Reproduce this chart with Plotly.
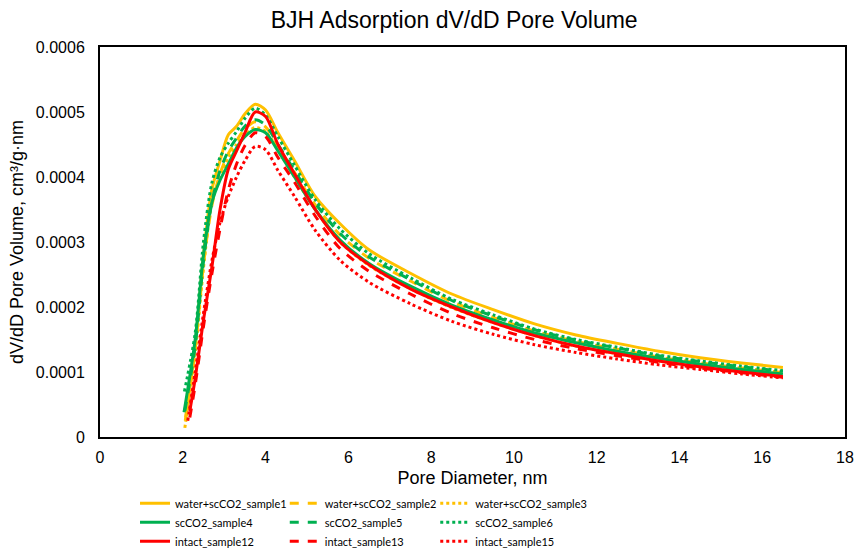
import plotly.graph_objects as go

# ---------------- data ----------------
grid = [2.3, 2.5, 2.7, 2.9, 3.1, 3.3, 3.5, 3.75, 4.0, 4.3, 4.7, 5.2, 5.8, 6.5,
        7.5, 8.5, 9.5, 10.5, 11.5, 12.5, 13.5, 14.5, 15.5, 16.5]

names = ["water+scCO2_sample1", "water+scCO2_sample2", "water+scCO2_sample3",
         "scCO2_sample4", "scCO2_sample5", "scCO2_sample6",
         "intact_sample12", "intact_sample13", "intact_sample15"]

start_d = [2.07, 2.06, 2.05, 2.03, 2.05, 2.04, 2.17, 2.17, 2.12]
start_v = [0.000030, 0.000025, 0.000014, 0.000038, 0.000040, 0.000070, 0.000040, 0.000030, 0.000025]

s1 = [0.000140, 0.000280, 0.000380, 0.000425, 0.000465, 0.000478, 0.000497, 0.000512, 0.000503, 0.000468,
      0.000425, 0.000370, 0.000328, 0.000288, 0.000252, 0.000220, 0.000196, 0.000174, 0.000157, 0.000144,
      0.000132, 0.000122, 0.000114, 0.000107]
s2 = [0.000135, 0.000265, 0.000355, 0.000405, 0.000436, 0.000456, 0.000474, 0.000485, 0.000477, 0.000447,
      0.000407, 0.000357, 0.000311, 0.000275, 0.000240, 0.000208, 0.000184, 0.000163, 0.000147, 0.000135,
      0.000123, 0.000114, 0.000106, 0.000099]
s3 = [0.000130, 0.000260, 0.000360, 0.000400, 0.000430, 0.000450, 0.000465, 0.000476, 0.000470, 0.000442,
      0.000400, 0.000350, 0.000300, 0.000264, 0.000228, 0.000199, 0.000176, 0.000156, 0.000140, 0.000128,
      0.000117, 0.000108, 0.000100, 0.000093]
s4 = [0.000150, 0.000280, 0.000360, 0.000395, 0.000420, 0.000445, 0.000462, 0.000473, 0.000468, 0.000440,
      0.000400, 0.000350, 0.000303, 0.000267, 0.000232, 0.000203, 0.000180, 0.000160, 0.000145, 0.000132,
      0.000121, 0.000112, 0.000104, 0.000097]
s5 = [0.000140, 0.000270, 0.000360, 0.000410, 0.000440, 0.000460, 0.000478, 0.000488, 0.000480, 0.000450,
      0.000410, 0.000360, 0.000313, 0.000277, 0.000242, 0.000210, 0.000186, 0.000165, 0.000149, 0.000137,
      0.000125, 0.000116, 0.000108, 0.000101]
s6 = [0.000160, 0.000300, 0.000390, 0.000430, 0.000452, 0.000470, 0.000490, 0.000506, 0.000495, 0.000462,
      0.000418, 0.000365, 0.000320, 0.000282, 0.000245, 0.000212, 0.000188, 0.000166, 0.000150, 0.000138,
      0.000126, 0.000117, 0.000109, 0.000102]
s12 = [0.000090, 0.000180, 0.000260, 0.000350, 0.000412, 0.000440, 0.000468, 0.000500, 0.000493, 0.000450,
       0.000405, 0.000350, 0.000300, 0.000265, 0.000228, 0.000200, 0.000176, 0.000156, 0.000140, 0.000128,
       0.000117, 0.000108, 0.000100, 0.000093]
s13 = [0.000080, 0.000170, 0.000250, 0.000320, 0.000380, 0.000420, 0.000448, 0.000468, 0.000462, 0.000430,
       0.000392, 0.000340, 0.000290, 0.000255, 0.000220, 0.000190, 0.000168, 0.000150, 0.000136, 0.000125,
       0.000115, 0.000106, 0.000099, 0.000092]
s15 = [0.000100, 0.000190, 0.000270, 0.000330, 0.000370, 0.000400, 0.000425, 0.000447, 0.000442, 0.000410,
       0.000370, 0.000318, 0.000272, 0.000238, 0.000205, 0.000178, 0.000158, 0.000142, 0.000130, 0.000120,
       0.000111, 0.000104, 0.000097, 0.000091]
series = [s1, s2, s3, s4, s5, s6, s12, s13, s15]

x_tick_vals = [0, 2, 4, 6, 8, 10, 12, 14, 16, 18]
y_tick_vals = [0, 0.0001, 0.0002, 0.0003, 0.0004, 0.0005, 0.0006]
y_tick_text = ["0", "0.0001", "0.0002", "0.0003", "0.0004", "0.0005", "0.0006"]

# ---------------- styles ----------------
colors = ["#FFC000"] * 3 + ["#00B050"] * 3 + ["#FF0000"] * 3
dashes = ["solid", "dash", "dot"] * 3
legend_ids = ["legend", "legend2", "legend3"] * 3

fig = go.Figure()
for i, (nm, vals) in enumerate(zip(names, series)):
    fig.add_trace(go.Scatter(
        x=[start_d[i]] + grid, y=[start_v[i]] + vals, name=nm, mode="lines",
        line=dict(color=colors[i], width=3, dash=dashes[i], shape="spline", smoothing=0.8),
        legend=legend_ids[i],
    ))

FONT = "Liberation Sans, Arial, sans-serif"
axis_font = dict(family=FONT, size=16, color="#000000")
title_font = dict(family=FONT, size=18, color="#000000")
leg_font = dict(family="Lato, Liberation Sans, sans-serif", size=11, color="#000000")

leg_common = dict(y=-0.133, xanchor="left", yanchor="top", orientation="v", font=leg_font,
                  bgcolor="rgba(0,0,0,0)", tracegroupgap=0)

fig.update_layout(
    width=857, height=558,
    margin=dict(l=100, r=12, t=47, b=121, autoexpand=False),
    paper_bgcolor="white", plot_bgcolor="white",
    title=dict(text="BJH Adsorption dV/dD Pore Volume", x=0.53, xanchor="center", y=0.965, yanchor="middle",
               font=dict(family=FONT, size=23, color="#000000")),
    xaxis=dict(range=[0, 18], tickvals=x_tick_vals, showgrid=False, zeroline=False,
               showline=True, linecolor="#000000", linewidth=2, mirror=True, ticks="",
               tickfont=axis_font, ticklabelstandoff=5,
               title=dict(text="Pore Diameter, nm", font=title_font, standoff=6)),
    yaxis=dict(range=[0, 0.0006], tickvals=y_tick_vals, ticktext=y_tick_text, showgrid=False, zeroline=False,
               showline=True, linecolor="#000000", linewidth=2, mirror=True, ticks="",
               tickfont=axis_font, ticklabelstandoff=10,
               title=dict(text="dV/dD Pore Volume, cm³/g·nm", font=title_font, standoff=8)),
    legend=dict(x=0.047, **leg_common),
    legend2=dict(x=0.248, **leg_common),
    legend3=dict(x=0.45, **leg_common),
    showlegend=True,
)

fig.write_html("out.html")
